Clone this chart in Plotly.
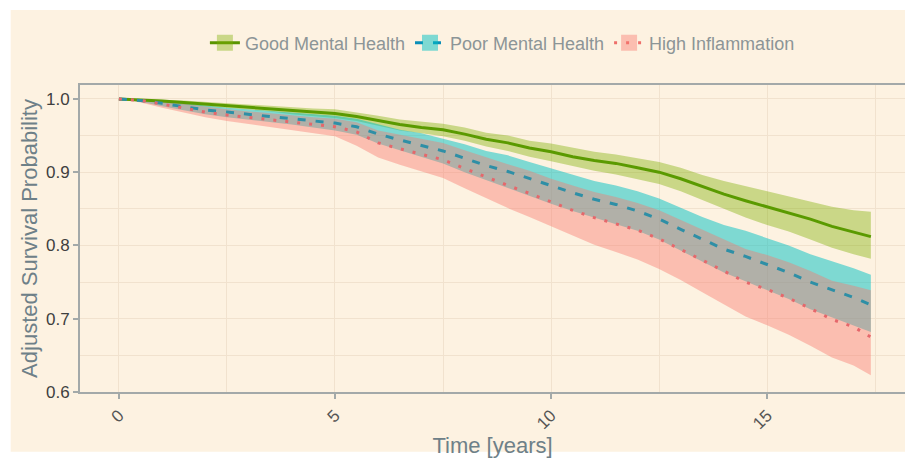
import plotly.graph_objects as go

# ---- data ----
time_years = [0, 0.5, 1.0, 1.5, 2.0, 2.5, 3.0, 3.5, 4.0, 4.5, 5.0, 5.5, 6.0, 6.5, 7.0, 7.5,
              8.0, 8.5, 9.0, 9.5, 10.0, 10.5, 11.0, 11.5, 12.0, 12.5, 13.0, 13.5, 14.0,
              14.5, 15.0, 15.5, 16.0, 16.5, 17.0, 17.4]

good_surv = [1.000, 0.999, 0.997, 0.995, 0.993, 0.991, 0.989, 0.987, 0.984, 0.982, 0.980,
             0.976, 0.970, 0.965, 0.961, 0.958, 0.952, 0.945, 0.940, 0.933, 0.928, 0.921,
             0.916, 0.912, 0.906, 0.900, 0.891, 0.880, 0.870, 0.861, 0.853, 0.845, 0.836,
             0.826, 0.818, 0.812]
good_upper = [1.000, 1.000, 0.999, 0.998, 0.996, 0.995, 0.993, 0.991, 0.989, 0.987, 0.986,
              0.982, 0.977, 0.972, 0.969, 0.966, 0.961, 0.954, 0.950, 0.943, 0.939, 0.933,
              0.928, 0.924, 0.919, 0.914, 0.906, 0.896, 0.888, 0.881, 0.875, 0.868, 0.861,
              0.853, 0.848, 0.846]
good_lower = [1.000, 0.998, 0.995, 0.992, 0.990, 0.987, 0.985, 0.983, 0.979, 0.977, 0.974,
              0.970, 0.963, 0.957, 0.953, 0.949, 0.943, 0.935, 0.929, 0.921, 0.915, 0.908,
              0.902, 0.897, 0.891, 0.884, 0.874, 0.862, 0.850, 0.838, 0.828, 0.819, 0.808,
              0.797, 0.788, 0.782]

poor_surv = [1.000, 0.998, 0.994, 0.989, 0.985, 0.982, 0.979, 0.976, 0.973, 0.970, 0.967,
             0.962, 0.952, 0.944, 0.937, 0.929, 0.919, 0.909, 0.901, 0.891, 0.881, 0.872,
             0.863, 0.856, 0.847, 0.836, 0.822, 0.808, 0.795, 0.785, 0.774, 0.763, 0.750,
             0.740, 0.729, 0.719]
poor_upper = [1.000, 1.000, 0.998, 0.994, 0.991, 0.988, 0.986, 0.983, 0.981, 0.979, 0.977,
              0.973, 0.965, 0.958, 0.953, 0.946, 0.938, 0.929, 0.923, 0.914, 0.905, 0.897,
              0.888, 0.882, 0.874, 0.864, 0.851, 0.839, 0.828, 0.820, 0.810, 0.800, 0.788,
              0.779, 0.769, 0.760]
poor_lower = [1.000, 0.996, 0.990, 0.984, 0.979, 0.975, 0.972, 0.968, 0.965, 0.961, 0.957,
              0.951, 0.939, 0.930, 0.921, 0.912, 0.900, 0.889, 0.879, 0.868, 0.857, 0.847,
              0.838, 0.830, 0.820, 0.808, 0.793, 0.777, 0.763, 0.751, 0.739, 0.727, 0.713,
              0.702, 0.691, 0.682]

high_surv = [1.000, 0.998, 0.993, 0.987, 0.982, 0.978, 0.975, 0.971, 0.968, 0.965, 0.962,
             0.955, 0.940, 0.932, 0.925, 0.917, 0.905, 0.893, 0.882, 0.871, 0.859, 0.848,
             0.838, 0.830, 0.821, 0.809, 0.795, 0.780, 0.765, 0.750, 0.740, 0.728, 0.714,
             0.699, 0.689, 0.675]
high_upper = [1.000, 1.000, 0.997, 0.993, 0.989, 0.986, 0.983, 0.980, 0.977, 0.975, 0.973,
              0.968, 0.957, 0.951, 0.946, 0.940, 0.930, 0.920, 0.911, 0.902, 0.891, 0.882,
              0.873, 0.866, 0.858, 0.848, 0.835, 0.821, 0.808, 0.795, 0.787, 0.777, 0.765,
              0.752, 0.745, 0.739]
high_lower = [1.000, 0.995, 0.988, 0.981, 0.975, 0.970, 0.966, 0.961, 0.957, 0.953, 0.949,
              0.936, 0.920, 0.910, 0.901, 0.892, 0.878, 0.864, 0.851, 0.839, 0.826, 0.813,
              0.801, 0.791, 0.781, 0.768, 0.753, 0.736, 0.720, 0.703, 0.691, 0.678, 0.663,
              0.647, 0.636, 0.623]

group_names = ["Good Mental Health", "Poor Mental Health", "High Inflammation"]
x_tick_vals = [0, 5, 10, 15]
y_tick_vals = [0.6, 0.7, 0.8, 0.9, 1.0]
y_tick_text = ["0.6", "0.7", "0.8", "0.9", "1.0"]

# ---- styles ----
BG = "#FDF2E1"
GRID = "#F1E2CE"
AXIS = "#A3A9A9"
band_colors = ["rgba(124,174,0,0.40)", "rgba(0,191,196,0.50)", "rgba(248,118,109,0.42)"]
line_colors = ["#5A9A00", "#2E8FA6", "#E5676B"]
legend_line_colors = ["#5A9400", "#0A8FB8", "#EE6F6A"]
dashes = ["solid", "8px,10px", "3px,9px"]

series = [
    (good_surv, good_upper, good_lower),
    (poor_surv, poor_upper, poor_lower),
    (high_surv, high_upper, high_lower),
]

fig = go.Figure()

# confidence bands
for (s, up, lo), bc in zip(series, band_colors):
    fig.add_trace(go.Scatter(x=time_years, y=lo, mode="lines", line=dict(width=0),
                             showlegend=False, hoverinfo="skip"))
    fig.add_trace(go.Scatter(x=time_years, y=up, mode="lines", line=dict(width=0),
                             fill="tonexty", fillcolor=bc, showlegend=False, hoverinfo="skip"))

# survival curves
for (s, up, lo), lc, d, name in zip(series, line_colors, dashes, group_names):
    fig.add_trace(go.Scatter(x=time_years, y=s, mode="lines", name=name,
                             line=dict(color=lc, width=3, dash=d),
                             showlegend=False))

# legend entries (box + line keys)
for name, bc, llc, d in zip(group_names, band_colors, legend_line_colors, dashes):
    fig.add_trace(go.Scatter(x=[None], y=[None], mode="lines+markers", name=name,
                             line=dict(color=llc, width=3, dash=d),
                             marker=dict(symbol="square", size=25, color=bc,
                                         line=dict(width=0))))

fig.update_layout(
    width=905, height=459,
    margin=dict(l=80, r=0, t=85, b=67, autoexpand=False),
    paper_bgcolor="white",
    plot_bgcolor=BG,
    font=dict(family="Liberation Sans, Arial, sans-serif", color="#444444"),
    shapes=[dict(type="rect", xref="paper", yref="paper", x0=-0.084, x1=1.02,
                 y0=-0.195, y1=1.244, fillcolor=BG, line=dict(width=0), layer="below")],
    legend=dict(orientation="h", x=0.512, xanchor="center", y=1.137, yanchor="middle",
                font=dict(size=18, color="#8C9597"), bgcolor="rgba(0,0,0,0)",
                itemwidth=30, traceorder="normal"),
    xaxis=dict(range=[-0.9, 18.19], tickvals=x_tick_vals, tickangle=-45, automargin=False,
               showgrid=True, gridcolor=GRID, gridwidth=1,
               minor=dict(dtick=2.5, tick0=0, showgrid=True, gridcolor=GRID, gridwidth=1),
               showline=True, linecolor=AXIS, linewidth=2, mirror=True,
               ticks="outside", ticklen=5, tickcolor=AXIS, tickwidth=1.5,
               tickfont=dict(size=17, color="#555555"), zeroline=False,
               title=dict(text="Time [years]", font=dict(size=22, color="#6E8088"), standoff=4)),
    yaxis=dict(range=[0.6, 1.019], tickvals=y_tick_vals, ticktext=y_tick_text, automargin=False,
               showgrid=True, gridcolor=GRID, gridwidth=1,
               minor=dict(dtick=0.05, tick0=0.6, showgrid=True, gridcolor=GRID, gridwidth=1),
               showline=True, linecolor=AXIS, linewidth=2,
               ticks="outside", ticklen=5, tickcolor=AXIS, tickwidth=1.5,
               tickfont=dict(size=17, color="#3F3F3F"), zeroline=False,
               title=dict(text="Adjusted Survival Probability", font=dict(size=22, color="#6E8088"),
                          standoff=2)),
)

# remove the default 8px page margin so the figure fills the window exactly
fig.write_html("out.html", config={"displayModeBar": False},
               post_script="document.body.style.margin='0';document.body.style.overflow='hidden';")
